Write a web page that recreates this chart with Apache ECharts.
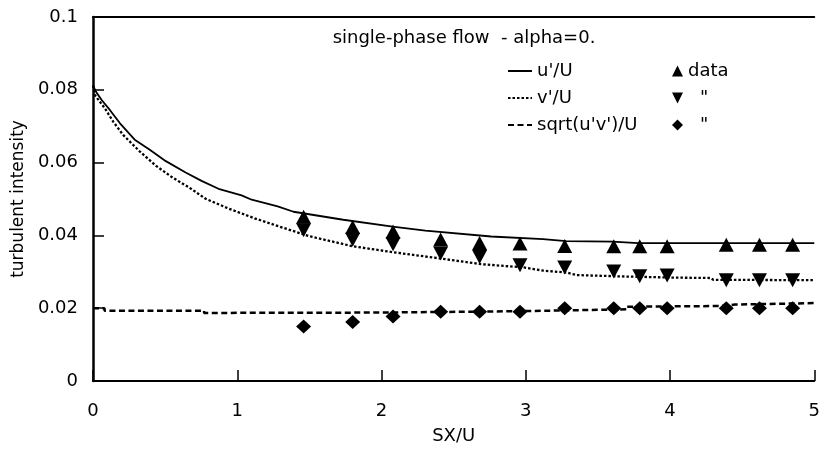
<!DOCTYPE html>
<html>
<head>
<meta charset="utf-8">
<script src="https://cdn.jsdelivr.net/npm/echarts@6/dist/echarts.min.js"></script>
<style>
  html, body { margin: 0; padding: 0; background: #fff; }
  #chart { width: 823px; height: 450px; }
</style>
</head>
<body>
<div id="chart"></div>
<script>
// Axis tick labels
const xTickLabels = ['0', '1', '2', '3', '4', '5'];
const yTickLabels = ['0', '0.02', '0.04', '0.06', '0.08', '0.1'];

// Computed profiles: [SX/U, intensity]
const uPrime = [
  [0, 0.0812], [0.02, 0.0795], [0.06, 0.0772], [0.118, 0.0744], [0.187, 0.0708],
  [0.289, 0.0663], [0.391, 0.0636], [0.505, 0.0604], [0.642, 0.0573], [0.756, 0.0549],
  [0.87, 0.0528], [1.03, 0.0510], [1.10, 0.0498], [1.28, 0.0480], [1.39, 0.0465],
  [1.735, 0.0443], [2.077, 0.0424], [2.304, 0.0413], [2.76, 0.0397], [3.12, 0.0390],
  [3.28, 0.0384], [3.60, 0.0383], [3.78, 0.0379], [5.0, 0.0379]
];
const vPrime = [
  [0, 0.0812], [0.016, 0.0784], [0.084, 0.0748], [0.141, 0.0712], [0.209, 0.0676],
  [0.323, 0.0631], [0.437, 0.0591], [0.551, 0.0559], [0.665, 0.0532], [0.779, 0.0501],
  [0.938, 0.0474], [1.12, 0.0447], [1.325, 0.0420], [1.507, 0.0397], [1.803, 0.0370],
  [2.077, 0.0354], [2.418, 0.0336], [2.69, 0.0321], [2.987, 0.0312], [3.124, 0.0303],
  [3.283, 0.0298], [3.351, 0.0291], [3.693, 0.0287], [4.034, 0.0284], [4.28, 0.0283],
  [4.30, 0.0278], [5.0, 0.0277]
];
const uvPrime = [
  [0, 0.0200], [0.08, 0.0200], [0.08, 0.0193], [0.77, 0.0193], [0.77, 0.0187],
  [2.0, 0.0188], [2.0, 0.0192], [3.0, 0.0192], [3.0, 0.0197], [3.7, 0.0197],
  [3.7, 0.0204], [4.35, 0.0206], [4.45, 0.0210], [5.0, 0.0214]
];

// Measurements
const dataX = [1.46, 1.80, 2.08, 2.41, 2.68, 2.96, 3.27, 3.61, 3.79, 3.98, 4.39, 4.62, 4.85];
const dataU = [0.0451, 0.0423, 0.0411, 0.0389, 0.0379, 0.0378, 0.0371, 0.0370, 0.0370, 0.0370, 0.0374, 0.0374, 0.0374];
const dataV = [0.0414, 0.0388, 0.0376, 0.0350, 0.0341, 0.0318, 0.0312, 0.0301, 0.0288, 0.0290, 0.0277, 0.0277, 0.0277];
const dataUV = [0.0150, 0.0162, 0.0177, 0.0190, 0.0190, 0.0190, 0.0200, 0.0200, 0.0200, 0.0200, 0.0200, 0.0200, 0.0200];

const lineNames = ["u'/U", "v'/U", "sqrt(u'v')/U"];
const markNames = ['data-u', 'data-v', 'data-uv'];
const markLabels = ['data', '{pad|}"', '{pad|}"'];
const titleText = 'single-phase flow  - alpha=0.';
const xName = 'SX/U';
const yName = 'turbulent intensity';

const pair = (xs, ys) => xs.map((x, i) => [x, ys[i]]);
const FONT = "'DejaVu Sans', 'Liberation Sans', Arial, sans-serif";
const INK = '#000';
const FS = 18;

const chart = echarts.init(document.getElementById('chart'), null, { renderer: 'canvas' });

const legendText = { fontFamily: FONT, fontSize: FS, color: INK, rich: { pad: { width: 12 } } };

chart.setOption({
  backgroundColor: '#fff',
  animation: false,
  textStyle: { fontFamily: FONT, color: INK },
  title: {
    text: titleText,
    left: 459,
    top: 24,
    textAlign: 'center',
    textStyle: { fontFamily: FONT, fontSize: FS, fontWeight: 'normal', color: INK }
  },
  legend: [
    {
      data: lineNames,
      orient: 'vertical',
      left: 507,
      top: 62,
      padding: 0,
      itemWidth: 24,
      itemHeight: 14,
      itemGap: 9,
      selectedMode: false,
      itemStyle: { opacity: 0, borderWidth: 0 },
      textStyle: legendText
    },
    {
      data: markNames,
      orient: 'vertical',
      left: 672,
      top: 62,
      padding: 0,
      itemWidth: 11,
      itemHeight: 11,
      itemGap: 9,
      selectedMode: false,
      formatter: name => markLabels[markNames.indexOf(name)],
      textStyle: legendText
    }
  ],
  grid: { left: 93, top: 17, width: 732, height: 370, containLabel: false },
  xAxis: [
    {
      type: 'value', min: 0, max: 5, interval: 1,
      name: xName, nameLocation: 'middle', nameGap: 46,
      nameTextStyle: { fontFamily: FONT, fontSize: FS, color: INK },
      axisLine: { show: true, lineStyle: { color: INK, width: 2 } },
      axisTick: { show: true, inside: true, length: 11, lineStyle: { color: INK, width: 1.5 } },
      axisLabel: {
        margin: 21, fontFamily: FONT, fontSize: FS, color: INK,
        formatter: v => xTickLabels[Math.round(v)]
      },
      splitLine: { show: false }
    },
    {
      type: 'value', min: 0, max: 5, position: 'top',
      axisLine: { show: true, lineStyle: { color: INK, width: 2 } },
      axisTick: { show: false }, axisLabel: { show: false }, splitLine: { show: false }
    }
  ],
  yAxis: {
    type: 'value', min: 0, max: 0.1, interval: 0.02,
    name: yName, nameLocation: 'middle', nameGap: 65, nameRotate: 90,
    nameTextStyle: { fontFamily: FONT, fontSize: 17, color: INK },
    axisLine: { show: true, lineStyle: { color: INK, width: 2.5 } },
    axisTick: { show: true, inside: true, length: 11, lineStyle: { color: INK, width: 1.5 } },
    axisLabel: {
      margin: 15, fontFamily: FONT, fontSize: FS, color: INK,
      formatter: v => yTickLabels[Math.round(v / 0.02)]
    },
    splitLine: { show: false }
  },
  series: [
    {
      name: lineNames[0], type: 'line', data: uPrime, symbol: 'none', showSymbol: false,
      lineStyle: { color: INK, width: 1.8, type: 'solid' }, itemStyle: { color: INK }, z: 2
    },
    {
      name: lineNames[1], type: 'line', data: vPrime, symbol: 'none', showSymbol: false,
      lineStyle: { color: INK, width: 2.3, type: [2.5, 2], cap: 'butt' }, itemStyle: { color: INK }, z: 2
    },
    {
      name: lineNames[2], type: 'line', data: uvPrime, symbol: 'none', showSymbol: false,
      lineStyle: { color: INK, width: 2.5, type: [6, 3.5], cap: 'butt' }, itemStyle: { color: INK }, z: 2
    },
    {
      name: markNames[0], type: 'scatter', data: pair(dataX, dataU),
      symbol: 'triangle', symbolSize: [15, 14], itemStyle: { color: INK, opacity: 1 }, z: 3
    },
    {
      name: markNames[1], type: 'scatter', data: pair(dataX, dataV),
      symbol: 'path://M0,0L2,0L1,2Z', symbolSize: [15, 14], itemStyle: { color: INK, opacity: 1 }, z: 3
    },
    {
      name: markNames[2], type: 'scatter', data: pair(dataX, dataUV),
      symbol: 'diamond', symbolSize: [15, 14], itemStyle: { color: INK, opacity: 1 }, z: 3
    }
  ]
});
</script>
</body>
</html>
